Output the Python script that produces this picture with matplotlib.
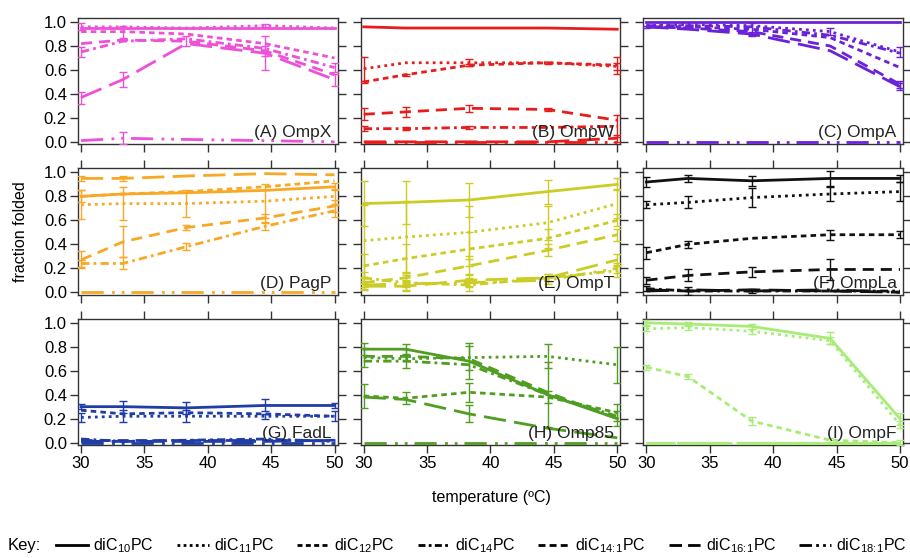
import numpy as np
import matplotlib
matplotlib.use('Agg')
import matplotlib.pyplot as plt
from matplotlib.lines import Line2D

plt.rcParams['font.family'] = ['Liberation Sans', 'DejaVu Sans']
plt.rcParams['mathtext.default'] = 'regular'

# temperatures (ºC)
temps = [30, 33.3, 38.3, 44.5, 50]

lipids = ['diC$_{10}$PC', 'diC$_{11}$PC', 'diC$_{12}$PC', 'diC$_{14}$PC',
          r'diC$_{14\!:\!1}$PC', r'diC$_{16\!:\!1}$PC', r'diC$_{18\!:\!1}$PC']
styles = ['-', (0, (1, 1.5)), (0, (2, 1.5)), (0, (3, 1.5, 1, 1.5)),
          (0, (4, 2.5)), (0, (8, 3)), (0, (8, 3, 1, 2.5, 1, 2.5))]
# shorter patterns so the legend handles show the full pattern
key_styles = ['-', (0, (1, 1.2)), (0, (1.8, 1.2)), (0, (2.5, 1.2, 1, 1.2)),
              (0, (2.5, 1.5)), (0, (4.5, 2.2)), (0, (4.5, 1.5, 1, 1.5, 1, 1.5))]

# fraction folded, one row per lipid (same order as lipids)
ompx = [[0.95, 0.95, 0.95, 0.95, 0.95],
        [0.96, 0.96, 0.95, 0.97, 0.95],
        [0.92, 0.92, 0.90, 0.82, 0.70],
        [0.75, 0.84, 0.86, 0.78, 0.62],
        [0.82, 0.85, 0.84, 0.76, 0.56],
        [0.37, 0.52, 0.82, 0.74, 0.52],
        [0.01, 0.03, 0.02, 0.01, 0.00]]
ompx_err = [[0, 0, 0, 0, 0],
            [0.03, 0, 0, 0.01, 0],
            [0, 0.05, 0, 0, 0],
            [0.04, 0, 0, 0, 0.04],
            [0, 0, 0.04, 0.04, 0],
            [0.05, 0.06, 0, 0.14, 0.05],
            [0, 0.05, 0, 0, 0]]

ompw = [[0.96, 0.95, 0.95, 0.95, 0.94],
        [0.61, 0.66, 0.66, 0.66, 0.63],
        [0.50, 0.56, 0.64, 0.66, 0.64],
        [0.11, 0.11, 0.12, 0.12, 0.13],
        [0.23, 0.25, 0.28, 0.27, 0.18],
        [0.00, 0.00, 0.00, 0.00, 0.03],
        [0.00, 0.00, 0.00, 0.00, 0.00]]
ompw_err = [[0, 0, 0, 0, 0],
            [0.10, 0, 0.03, 0, 0.03],
            [0.01, 0.01, 0.01, 0.01, 0.07],
            [0.02, 0.01, 0.01, 0, 0.09],
            [0.05, 0.04, 0.03, 0.01, 0],
            [0, 0, 0, 0, 0.03],
            [0, 0, 0, 0, 0]]

ompa = [[1.00, 1.00, 1.00, 1.00, 1.00],
        [0.97, 0.98, 0.97, 0.92, 0.75],
        [0.96, 0.96, 0.94, 0.87, 0.62],
        [0.97, 0.97, 0.96, 0.89, 0.74],
        [0.96, 0.95, 0.92, 0.80, 0.48],
        [0.96, 0.94, 0.90, 0.76, 0.46],
        [0.00, 0.00, 0.00, 0.00, 0.00]]
ompa_err = [[0, 0, 0, 0, 0],
            [0, 0, 0, 0.03, 0.04],
            [0, 0, 0.05, 0, 0],
            [0, 0, 0, 0, 0],
            [0, 0, 0, 0, 0.03],
            [0.01, 0, 0.02, 0, 0.03],
            [0, 0, 0, 0, 0]]

pagp = [[0.80, 0.82, 0.83, 0.85, 0.88],
        [0.73, 0.74, 0.74, 0.76, 0.80],
        [0.80, 0.82, 0.84, 0.88, 0.93],
        [0.24, 0.24, 0.38, 0.55, 0.68],
        [0.27, 0.42, 0.54, 0.62, 0.72],
        [0.95, 0.95, 0.97, 0.99, 0.98],
        [0.00, 0.00, 0.00, 0.00, 0.00]]
pagp_err = [[0.05, 0, 0, 0, 0.03],
            [0.12, 0.14, 0.11, 0.14, 0.06],
            [0, 0, 0, 0, 0],
            [0.03, 0.05, 0.03, 0.03, 0.05],
            [0.07, 0.13, 0.02, 0.03, 0.05],
            [0.02, 0.02, 0, 0, 0],
            [0, 0, 0, 0, 0]]

ompt = [[0.74, 0.75, 0.77, 0.84, 0.90],
        [0.43, 0.46, 0.50, 0.58, 0.74],
        [0.22, 0.28, 0.36, 0.45, 0.60],
        [0.12, 0.08, 0.06, 0.12, 0.18],
        [0.08, 0.12, 0.22, 0.35, 0.48],
        [0.05, 0.05, 0.10, 0.12, 0.27],
        [0.06, 0.07, 0.08, 0.10, 0.20]]
ompt_err = [[0.19, 0.18, 0.14, 0.10, 0.05],
            [0.30, 0.30, 0.22, 0.14, 0.12],
            [0.10, 0.12, 0.14, 0.08, 0.05],
            [0.05, 0.06, 0.05, 0.03, 0.05],
            [0.04, 0.05, 0.08, 0.05, 0.05],
            [0.03, 0.04, 0.05, 0.03, 0.05],
            [0.03, 0.03, 0.04, 0.03, 0.04]]

ompla = [[0.92, 0.95, 0.93, 0.95, 0.95],
         [0.73, 0.75, 0.79, 0.82, 0.84],
         [0.33, 0.40, 0.45, 0.48, 0.48],
         [0.03, 0.01, 0.01, 0.01, 0.01],
         [0.10, 0.14, 0.17, 0.19, 0.19],
         [0.02, 0.01, 0.02, 0.01, 0.00],
         [0.01, 0.02, 0.01, 0.02, 0.00]]
ompla_err = [[0.04, 0.03, 0.04, 0.06, 0.03],
             [0.03, 0.05, 0.08, 0.06, 0.08],
             [0.05, 0.03, 0, 0.04, 0.03],
             [0.02, 0.03, 0.02, 0, 0],
             [0.03, 0.05, 0.04, 0.09, 0],
             [0, 0, 0, 0, 0],
             [0, 0, 0, 0, 0]]

fadl = [[0.30, 0.30, 0.29, 0.31, 0.31],
        [0.21, 0.22, 0.22, 0.22, 0.22],
        [0.27, 0.24, 0.25, 0.24, 0.22],
        [0.03, 0.01, 0.02, 0.03, 0.01],
        [0.02, 0.02, 0.02, 0.02, 0.02],
        [0.01, 0.01, 0.01, 0.01, 0.02],
        [0.00, 0.00, 0.00, 0.00, 0.00]]
fadl_err = [[0.02, 0.05, 0.05, 0.05, 0.02],
            [0.04, 0.05, 0.05, 0.02, 0.04],
            [0, 0, 0, 0, 0],
            [0, 0, 0, 0, 0],
            [0, 0, 0, 0, 0],
            [0, 0, 0, 0, 0],
            [0, 0, 0, 0, 0]]

omp85 = [[0.78, 0.78, 0.68, 0.40, 0.20],
         [0.71, 0.70, 0.71, 0.72, 0.65],
         [0.39, 0.37, 0.42, 0.38, 0.25],
         [0.68, 0.68, 0.65, 0.40, 0.22],
         [0.72, 0.72, 0.70, 0.42, 0.20],
         [0.38, 0.36, 0.24, 0.12, 0.04],
         [0.00, 0.00, 0.00, 0.00, 0.00]]
omp85_err = [[0.05, 0.04, 0.15, 0.27, 0.06],
             [0.08, 0.08, 0.10, 0.10, 0.15],
             [0.10, 0.05, 0.08, 0.05, 0.07],
             [0, 0, 0, 0, 0],
             [0, 0, 0, 0, 0],
             [0, 0, 0.07, 0, 0],
             [0, 0, 0, 0, 0]]

ompf = [[1.00, 0.99, 0.97, 0.87, 0.20],
        [0.95, 0.96, 0.93, 0.85, 0.15],
        [0.63, 0.55, 0.18, 0.02, 0.00],
        [0.00, 0.00, 0.00, 0.00, 0.00],
        [0.00, 0.00, 0.00, 0.00, 0.00],
        [0.00, 0.00, 0.00, 0.00, 0.00],
        [0.00, 0.00, 0.00, 0.00, 0.00]]
ompf_err = [[0.02, 0.02, 0.02, 0.05, 0.05],
            [0.02, 0.02, 0.02, 0.03, 0.03],
            [0.02, 0.02, 0.03, 0.02, 0.02],
            [0, 0, 0, 0, 0],
            [0, 0, 0, 0, 0],
            [0, 0, 0, 0, 0],
            [0, 0, 0, 0, 0]]

panels = [('(A) OmpX', ompx, ompx_err, '#ee50d8'),
          ('(B) OmpW', ompw, ompw_err, '#e81c1c'),
          ('(C) OmpA', ompa, ompa_err, '#6a22d8'),
          ('(D) PagP', pagp, pagp_err, '#f8a824'),
          ('(E) OmpT', ompt, ompt_err, '#cccc26'),
          ('(F) OmpLa', ompla, ompla_err, '#111111'),
          ('(G) FadL', fadl, fadl_err, '#1f3ca8'),
          ('(H) Omp85', omp85, omp85_err, '#4f9e22'),
          ('(I) OmpF', ompf, ompf_err, '#a8ec78')]

fig, axes = plt.subplots(3, 3, figsize=(9.1, 5.58), dpi=100)
fig.subplots_adjust(left=0.0857, right=0.9923, top=0.968, bottom=0.2025,
                    wspace=0.089, hspace=0.19)

x = np.array(temps)
for i, (name, vals, errs, col) in enumerate(panels):
    ax = axes.flat[i]
    r, c = divmod(i, 3)
    for k in range(len(lipids)):
        y = np.array(vals[k])
        e = np.array(errs[k])
        ax.plot(x, y, color=col, ls=styles[k], lw=2, clip_on=False, zorder=3)
        m = e > 0
        if m.any():
            ax.errorbar(x[m], y[m], yerr=e[m], fmt='none', ecolor=col,
                        elinewidth=1, capsize=3, capthick=1, zorder=3)
    ax.set_xlim(29.76, 50.24)
    ax.set_ylim(-0.02, 1.035)
    ax.set_xticks([30, 35, 40, 45, 50])
    ax.set_yticks([0, 0.2, 0.4, 0.6, 0.8, 1.0])
    ax.tick_params(direction='out', length=6, width=1, color='#333333',
                   labelsize=12, left=True, right=True, bottom=True,
                   top=(r > 0), labelleft=(c == 0), labelbottom=(r == 2),
                   pad=2)
    if c == 0:
        ax.set_yticklabels(['0.0', '0.2', '0.4', '0.6', '0.8', '1.0'])
    for s in ax.spines.values():
        s.set_color('#333333')
        s.set_linewidth(1)
    ax.text(0.975, 0.03, name, transform=ax.transAxes, ha='right',
            va='bottom', fontsize=12.5, color='#222222', zorder=5)

fig.text(0.022, 0.585, 'fraction folded', rotation=90, ha='center',
         va='center', fontsize=11.5)
fig.text(0.54, 0.108, 'temperature (ºC)', ha='center', va='center',
         fontsize=11.5)

handles = [Line2D([], [], color='black', ls=key_styles[k], lw=2)
           for k in range(len(lipids))]
fig.text(0.008, 0.022, 'Key:', ha='left', va='center', fontsize=12)
fig.legend(handles, lipids, loc='center left', bbox_to_anchor=(0.062, 0.022),
           ncol=7, frameon=False, fontsize=11.5, handlelength=2.0,
           handletextpad=0.3, columnspacing=1.45, borderpad=0, borderaxespad=0)

fig.savefig('out.png', dpi=100)
